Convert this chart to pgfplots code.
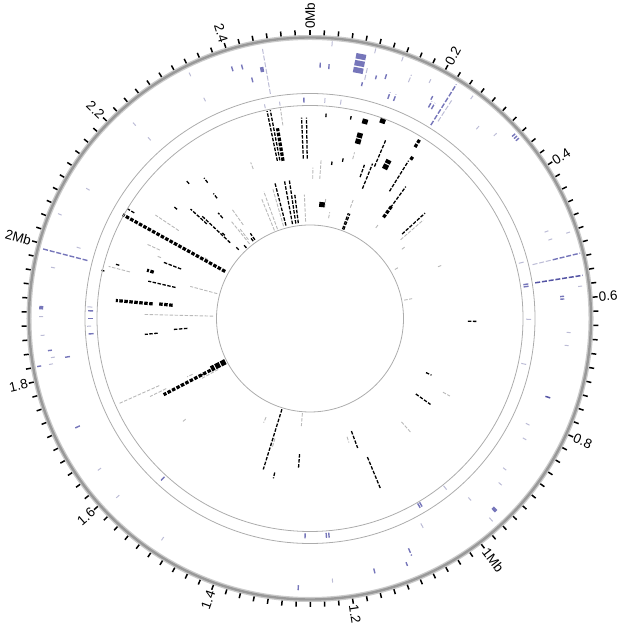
\documentclass[border=0pt]{standalone}
\usepackage{fontspec}
\setmainfont{Liberation Sans}
\usepackage{pgfplots}
\usepackage{pgfplotstable}
\pgfplotsset{compat=1.18}

\definecolor{tilepurple}{RGB}{118,118,186}
\definecolor{tiledark}{RGB}{84,84,164}
\definecolor{tilelight}{RGB}{188,188,214}

% one row per tile stack: angle (deg, clockwise from 0Mb), inner and outer radius
\pgfplotstableread{
a r1 r2
348.3 161 212
349.2 161 212
345.5 96 141
349.5 96 141
351.5 96 141
353 96 126
357.6 160 201
359 160 201
4.5 202 206
8 155 159
11.7 160 164
11.5 203 207
19.5 150 163
22 140 167
23 165 195
20 95 112
20.8 95 112
32 150 186
36 137 163
47.5 125 156
301 205 213
309.4 172 177
312.5 140 162
313.5 110 150
318.1 181 185
323 170 176
322.3 152 158
319 133 140
314 99 103
314.3 119 123
318 95 100
323.7 96 100
325 96 104
291 138 158
285.6 198 202
283 211 214
283 138 166
264.5 153 166
265.4 123 137
242.5 121 125
197.2 95 158
192.9 158 164
184.4 136 150
157.5 150 185
159.8 120 138
125.5 130 148
115 128 134
91 158 168
}\blackthin

\pgfplotstableread{
a r1 r2
350.3 160 193
299 97 214
286.5 163 170
275.3 158 195
275.5 138 152
242.5 112 165
36 125 140
32.4 188 193
31.5 201 211
}\blackthick

\pgfplotstableread{
a r1 r2
6 112 118
15.6 202 207
15.2 181 193
20.2 208 213
26.5 167 177
243 95 111
}\blackblock

\pgfplotstableread{
a r1 r2
344 96 136
352 195 212
339.2 160 167
357.4 97 124
1.1 140 151
4 140 160
7.5 112 122
10.5 102 108
15 165 172
20 118 126
36 112 116
53 115 119
60 98 102
68 138 142
79 96 104
303.8 158 186
294.5 165 180
292.2 161 166
300 118 122
284.5 186 208
285 96 124
271.4 97 167
321 96 125
324.5 115 135
322 100 115
244.6 130 136
246 165 210
244 160 178
241 105 125
204 108 114
197 125 135
196.3 125 135
184.6 95 108
162.6 124 130
138.5 138 152
119 152 160
231 160 164
49 120 150
340 95 135
338 95 130
}\graythin

\pgfplotstableread{
a r1 r2
2.3 251 256
4.3 250 255
346.4 243 248
342.7 259 264
344.9 258 263
15.3 248 252
12.5 238 242
19.5 233 240
21 233 240
32 228 276
28.9 250 254
29.3 242 249
30.1 242 249
17.4 251 256
48 272 276
48.6 272 276
49.2 272 276
76.4 250 278
85 251 255
85.6 251 255
284.6 230 277
263 260 264
261 243 249
260 273 277
156.8 250 258
158.5 262 266
165.7 258 263
182.5 267 273
245 254 259
272 217 222
270 217 222
266 217 222
81 216 221
81.6 216 221
181.3 215 220
175 215 220
175.7 215 220
149.2 214 219
149.8 214 219
222.6 215 220
358.4 216 221
}\purplethin

\pgfplotstableread{
a r1 r2
81 228 276
108.3 248 253
}\purpledark

\pgfplotstableread{
a r1 r2
349.1 251 256
272.3 267 271
136 263 268
}\purplethick

\pgfplotstableread{
a r1 r2
11 250 271
}\purpleblock

\pgfplotstableread{
a r1 r2
350 228 274
4.6 273 278
13.7 273 278
12.9 245 258
19.6 273 278
33 235 260
22.6 256 264
26.8 264 268
36.2 272 276
41.3 252 256
45.2 259 263
76.4 229 250
69.8 250 254
71.6 270 274
71.8 251 255
83.2 270 274
93.1 257 261
96 256 260
115.9 240 244
119.3 244 248
127.7 244 248
138.5 239 243
175.1 261 265
213.8 263 267
227.2 260 264
234.4 257 261
281.2 260 264
287 240 244
292.6 269 273
300.2 255 259
317.9 260 264
318.2 239 243
333.8 270 274
334.3 241 245
270.4 267 271
266.4 266 270
261.4 258 262
260 261 265
138 268 273
151.6 233 238
131 250 254
273 218 223
268 219 223
3.9 216 221
75.2 216 221
90.2 216 221
102 216 221
141.4 214 219
348 215 219
352 215 219
8.1 216 221
}\lightthin

\pgfplotsset{
  tile/.style={mark=none,
    quiver={u={(\thisrow{r2}-\thisrow{r1})*sin(\thisrow{a})},
            v={(\thisrow{r2}-\thisrow{r1})*cos(\thisrow{a})}}},
  inner/.style={dash pattern=on 3.5bp off 1.5bp},
  outer/.style={dash pattern=on 5bp off 1.8bp},
}
\newcommand{\tiles}[2]{\addplot[tile,#1] table[x expr={\thisrow{r1}*sin(\thisrow{a})},
  y expr={\thisrow{r1}*cos(\thisrow{a})}] {#2};}

\begin{document}
\begin{tikzpicture}
\begin{axis}[x=1bp, y=1bp, xmin=-310, xmax=307, ymin=-305.5, ymax=318.5,
  hide axis, clip=false]
\tiles{gray!55, line width=0.9bp, inner}{\graythin}
\tiles{tilelight, line width=1bp, outer}{\lightthin}
\tiles{black, line width=1.3bp, inner}{\blackthin}
\tiles{black, line width=3.2bp, inner}{\blackthick}
\tiles{black, line width=5.5bp, dash pattern=on 5bp off 1.2bp}{\blackblock}
\tiles{tilepurple, line width=1.4bp, outer}{\purplethin}
\tiles{tiledark, line width=1.5bp, outer}{\purpledark}
\tiles{tilepurple, line width=3.5bp, outer}{\purplethick}
\tiles{tilepurple, line width=10bp, dash pattern=on 5.5bp off 1.5bp}{\purpleblock}
\coordinate (C) at (axis cs:0,0);
\coordinate (SW) at (axis cs:-310,-305.5);
\coordinate (NE) at (axis cs:307,318.5);
\end{axis}
\begin{scope}[shift={(C)}]
  \draw[gray!65, line width=0.8bp] (0,0) circle[radius=225bp];
  \draw[gray!65, line width=0.8bp] (0,0) circle[radius=213bp];
  \draw[gray!65, line width=0.8bp] (0,0) circle[radius=93.5bp];
  \draw[gray!40, line width=5bp] (0,0) circle[radius=281bp];
  \draw[gray!80, line width=2.4bp] (0,0) circle[radius=281bp];
  \foreach \i in {0,...,125}
    \draw[black, line width=1.5bp] ({90-2.856*\i}:283.5bp) -- ({90-2.856*\i}:288.5bp);
  \foreach \v/\t in {0/0Mb, 0.2/0.2, 0.4/0.4, 0.6/0.6, 0.8/0.8, 1/1Mb, 1.2/1.2}
    \node[font=\fontsize{13.5bp}{16bp}\selectfont, inner sep=0pt, anchor=west,
      rotate={90-142.8*\v}] at ({90-142.8*\v}:289.5bp) {\t};
  \foreach \v/\t in {1.4/1.4, 1.6/1.6, 1.8/1.8, 2/2Mb, 2.2/2.2, 2.4/2.4}
    \node[font=\fontsize{13.5bp}{16bp}\selectfont, inner sep=0pt, anchor=east,
      rotate={270-142.8*\v}] at ({90-142.8*\v}:289.5bp) {\t};
\end{scope}
\pgfresetboundingbox
\path[use as bounding box] (SW) rectangle (NE);
\end{tikzpicture}
\end{document}
